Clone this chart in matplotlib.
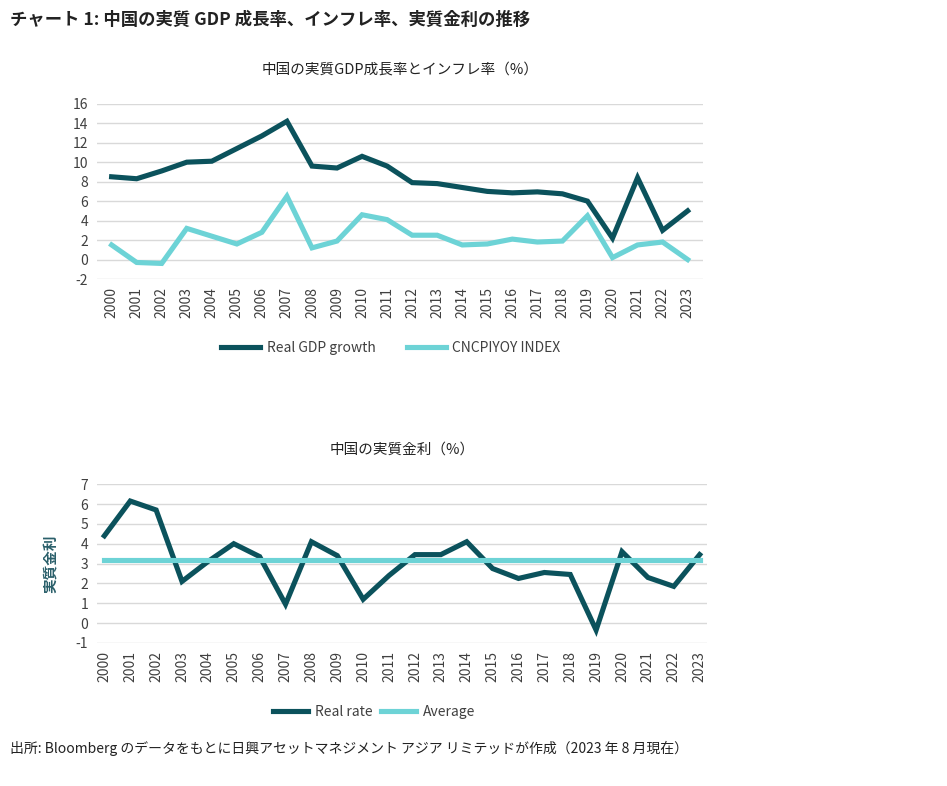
import matplotlib
matplotlib.use('Agg')
import matplotlib.pyplot as plt
from matplotlib.lines import Line2D

plt.rcParams['font.family'] = ['Noto Sans CJK JP', 'DejaVu Sans']
plt.rcParams['axes.unicode_minus'] = False

years = [str(y) for y in range(2000, 2024)]
gdp_growth = [8.5, 8.3, 9.1, 10.0, 10.1, 11.4, 12.7, 14.2, 9.6, 9.4, 10.6, 9.6,
              7.9, 7.8, 7.4, 7.0, 6.85, 6.95, 6.75, 6.0, 2.2, 8.4, 3.0, 5.0]
cpi_yoy = [1.5, -0.3, -0.4, 3.2, 2.4, 1.6, 2.8, 6.5, 1.2, 1.9, 4.6, 4.1,
           2.5, 2.5, 1.5, 1.6, 2.1, 1.8, 1.9, 4.5, 0.2, 1.5, 1.8, 0.0]
real_rate = [4.4, 6.15, 5.7, 2.1, 3.1, 4.0, 3.35, 0.95, 4.1, 3.4, 1.2, 2.4,
             3.45, 3.45, 4.1, 2.75, 2.25, 2.55, 2.45, -0.35, 3.6, 2.3, 1.85, 3.45]
average_rate = 3.2

dark = '#0b525c'
light = '#6dd3d6'
grid_c = '#d9d9d9'
text_c = '#404040'

fig = plt.figure(figsize=(9.47, 7.86), dpi=100)

fig.text(0.011, 0.974, 'チャート 1: 中国の実質 GDP 成長率、インフレ率、実質金利の推移',
         fontsize=12.5, fontweight='bold', color='#222222', va='center')
fig.text(0.011, 0.048, '出所: Bloomberg のデータをもとに日興アセットマネジメント アジア リミテッドが作成（2023 年 8 月現在）',
         fontsize=10, color='#222222', va='center')


def style_axes(ax):
    for s in ax.spines.values():
        s.set_visible(False)
    ax.grid(axis='y', color=grid_c, lw=1)
    ax.set_axisbelow(True)
    ax.tick_params(axis='both', length=0, labelsize=10, colors=text_c, pad=6)
    ax.set_xticks(range(len(years)))
    ax.set_xticklabels(years, rotation=90)


# Top chart: GDP growth and inflation
ax1 = fig.add_axes([0.102, 0.645, 0.640, 0.223])
ax1.plot(range(len(years)), gdp_growth, color=dark, lw=3.7, solid_joinstyle='miter')
ax1.plot(range(len(years)), cpi_yoy, color=light, lw=3.7, solid_joinstyle='miter')
ax1.set_ylim(-2, 16)
ax1.set_yticks(range(-2, 17, 2))
ax1.set_xlim(-0.6, 23.6)
style_axes(ax1)
ax1.set_title('中国の実質GDP成長率とインフレ率（%）', fontsize=10.5, color='#222222', pad=22)
h1 = [Line2D([], [], color=dark, lw=3.7), Line2D([], [], color=light, lw=3.7)]
fig.legend(h1, ['Real GDP growth', 'CNCPIYOY INDEX'], loc='center',
           bbox_to_anchor=(0.413, 0.557), ncol=2, frameon=False, fontsize=10,
           handlelength=2.8, handletextpad=0.5, columnspacing=2.2, labelcolor=text_c)

# Bottom chart: real interest rate
ax2 = fig.add_axes([0.102, 0.182, 0.645, 0.202])
ax2.plot(range(len(years)), real_rate, color=dark, lw=3.7, solid_joinstyle='miter')
ax2.plot(range(len(years)), [average_rate] * len(years), color=light, lw=3.7)
ax2.set_ylim(-1, 7)
ax2.set_yticks(range(-1, 8))
ax2.set_xlim(-0.3, 23.3)
style_axes(ax2)
ax2.set_title('中国の実質金利（%）', fontsize=10.5, color='#222222', pad=22)
ax2.set_ylabel('実質金利', fontsize=10.5, color='#2a5f6a', fontweight='bold', labelpad=12)
h2 = [Line2D([], [], color=dark, lw=3.7), Line2D([], [], color=light, lw=3.7)]
fig.legend(h2, ['Real rate', 'Average'], loc='center',
           bbox_to_anchor=(0.395, 0.094), ncol=2, frameon=False, fontsize=10,
           handlelength=2.5, handletextpad=0.5, columnspacing=0.6, labelcolor=text_c)

fig.savefig('out.png', dpi=100)
